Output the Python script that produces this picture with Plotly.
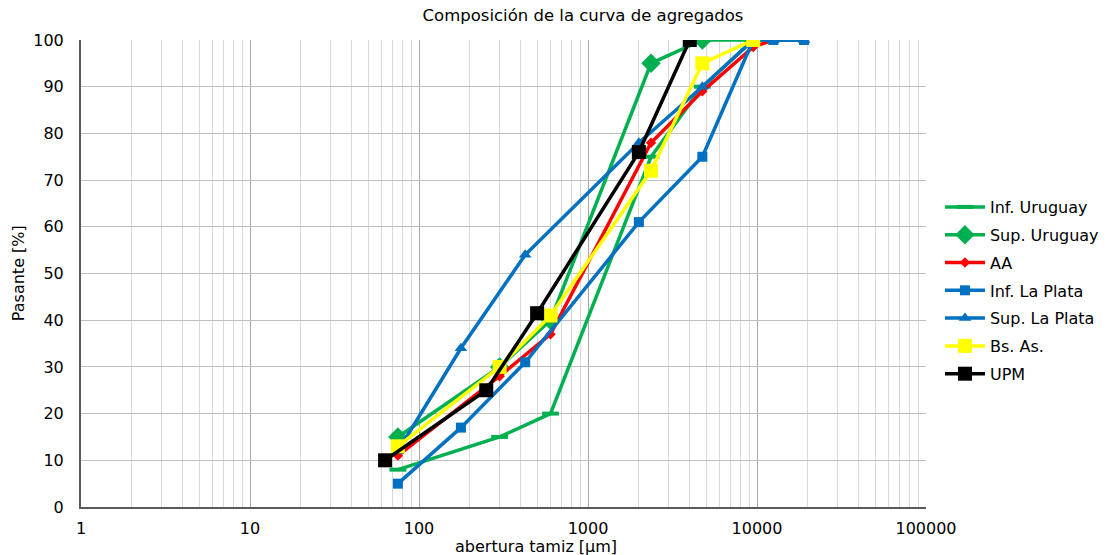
import plotly.graph_objects as go

# --- data (sieve opening in µm, % passing) ---
inf_uruguay_x = [75, 300, 600, 2360, 4750, 9500]
inf_uruguay_y = [8, 15, 20, 75, 90, 100]

sup_uruguay_x = [75, 300, 600, 2360, 4750, 9500]
sup_uruguay_y = [15, 30, 40, 95, 100, 100]

aa_x = [75, 300, 600, 2360, 4750, 9500, 12500, 19000]
aa_y = [11, 28, 37, 78, 89, 98.5, 100, 100]

inf_laplata_x = [75, 177, 425, 2000, 4750, 9500, 12500, 19000]
inf_laplata_y = [5, 17, 31, 61, 75, 100, 100, 100]

sup_laplata_x = [75, 177, 425, 2000, 4750, 9500, 12500, 19000]
sup_laplata_y = [12, 34, 54, 78, 90, 100, 100, 100]

bsas_x = [75, 300, 600, 2360, 4750, 9500]
bsas_y = [13, 30, 41, 72, 95, 100]

upm_x = [63, 250, 500, 2000, 4000]
upm_y = [10, 25, 41.5, 76, 100]

x_tickvals = [1, 10, 100, 1000, 10000, 100000]
x_ticktext = ["1", "10", "100", "1000", "10000", "100000"]
y_tickvals = list(range(0, 101, 10))

GREEN = "#00B050"
BLUE = "#0070C0"
RED = "#FF0000"
YELLOW = "#FFFF00"
BLACK = "#000000"
FONT = "DejaVu Sans, Liberation Sans, Arial, sans-serif"
FS = 16

# plot area in pixels
L, R, T, B = 81, 928, 40, 507

series = [
    ("Inf. Uruguay", inf_uruguay_x, inf_uruguay_y, GREEN, "line-ew", 12),
    ("Sup. Uruguay", sup_uruguay_x, sup_uruguay_y, GREEN, "diamond", 15),
    ("AA", aa_x, aa_y, RED, "diamond", 8),
    ("Inf. La Plata", inf_laplata_x, inf_laplata_y, BLUE, "square", 10),
    ("Sup. La Plata", sup_laplata_x, sup_laplata_y, BLUE, "triangle-up", 11),
    ("Bs. As.", bsas_x, bsas_y, YELLOW, "square", 14),
    ("UPM", upm_x, upm_y, BLACK, "square", 14),
]

fig = go.Figure()
for name, xs, ys, col, sym, sz in series:
    fig.add_trace(go.Scatter(
        x=xs, y=ys, name=name, mode="lines+markers", legendgroup=name,
        line=dict(color=col, width=3.5),
        marker=dict(symbol=sym, size=sz, color=col,
                    line=dict(color=col, width=4 if sym == "line-ew" else 0)),
    ))

fig.update_layout(
    width=1116, height=555,
    margin=dict(l=L, r=1116 - R, t=T, b=555 - B),
    paper_bgcolor="white", plot_bgcolor="white",
    font=dict(family=FONT, size=FS, color="#000000"),
    title=dict(text="Composición de la curva de agregados", x=583 / 1116, xanchor="center",
               xref="container", y=1 - 15 / 555, yanchor="middle", yref="container",
               font=dict(size=16.5, family=FONT, color="#000000")),
    showlegend=True,
    legend=dict(x=(942 - L) / (R - L), xanchor="left", y=(B - 190) / (B - T),
                yanchor="top", font=dict(size=FS, family=FONT), bgcolor="rgba(0,0,0,0)",
                itemwidth=40, tracegroupgap=4),
    xaxis=dict(type="log", range=[0, 5], tickvals=x_tickvals, ticktext=x_ticktext,
               showgrid=True, gridcolor="#A6A6A6", gridwidth=1,
               minor=dict(dtick="D1", showgrid=True, gridcolor="#D9D9D9", gridwidth=1, ticks=""),
               showline=True, linecolor="#595959", linewidth=2, mirror=False,
               ticks="outside", ticklen=6, tickcolor="rgba(0,0,0,0)",
               tickfont=dict(size=FS, family=FONT), zeroline=False),
    yaxis=dict(range=[0, 100], tickvals=y_tickvals, showgrid=True, gridcolor="#BFBFBF",
               gridwidth=1, showline=True, linecolor="#595959", linewidth=2,
               ticks="outside", ticklen=12, tickcolor="rgba(0,0,0,0)",
               tickfont=dict(size=FS, family=FONT), zeroline=False),
    annotations=[
        dict(text="abertura tamiz [µm]", x=(537 - L) / (R - L), y=(B - 546) / (B - T),
             xref="paper", yref="paper", showarrow=False, font=dict(size=FS, family=FONT),
             xanchor="center", yanchor="middle"),
        dict(text="Pasante [%]", x=(18 - L) / (R - L), y=(B - 273) / (B - T),
             xref="paper", yref="paper", showarrow=False, textangle=-90,
             font=dict(size=FS, family=FONT), xanchor="center", yanchor="middle"),
    ],
)

fig.write_html("out.html", config={"displayModeBar": False},
               post_script="document.body.style.margin='0px';")
